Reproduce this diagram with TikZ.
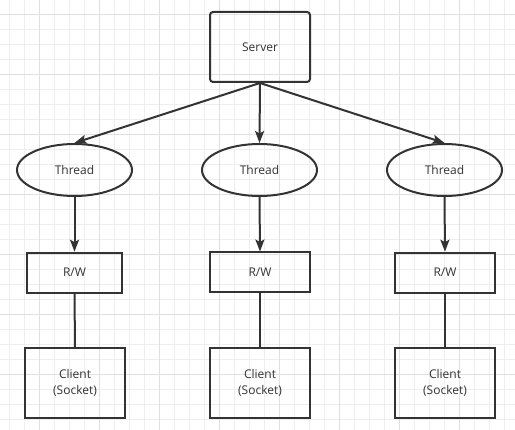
\documentclass[tikz,border=0pt]{standalone}
\usepackage{fontspec}
\setmainfont{Open Sans}
\usetikzlibrary{shapes.geometric,arrows.meta}
\definecolor{ink}{HTML}{333333}
\definecolor{gridminor}{HTML}{EEEEEE}
\definecolor{gridmajor}{HTML}{E0E0E0}
\tikzset{
  base/.style={draw=ink, line width=2pt, text=ink, inner sep=0pt, font=\fontsize{12}{16}\selectfont, align=center},
  srvbox/.style={base, rectangle, rounded corners=3pt, minimum width=100pt, minimum height=70pt},
  thr/.style={base, ellipse, minimum width=115pt, minimum height=52pt},
  rwbox/.style={base, rectangle, minimum width=100pt, minimum height=40pt},
  clbox/.style={base, rectangle, minimum width=100pt, minimum height=70pt},
  arr/.style={draw=ink, line width=2pt, -{Stealth[length=12pt, width=9pt, inset=2.5pt]}},
  lnk/.style={draw=ink, line width=2pt},
}
\begin{document}
\begin{tikzpicture}[x=1pt,y=-1pt]
\useasboundingbox (0,0) rectangle (515,430);
\fill[white] (0,0) rectangle (515,430);
\foreach \i in {0,...,34} {
  \draw[gridminor, line width=1pt] (9.5+15*\i,0) -- (9.5+15*\i,430);
}
\foreach \i in {0,...,28} {
  \draw[gridminor, line width=1pt] (0,14.5+15*\i) -- (515,14.5+15*\i);
}
\foreach \i in {0,...,8} {
  \draw[gridmajor, line width=1pt] (39.5+60*\i,0) -- (39.5+60*\i,430);
}
\foreach \i in {0,...,7} {
  \draw[gridmajor, line width=1pt] (0,14.5+60*\i) -- (515,14.5+60*\i);
}
\node[srvbox] (srv) at (260,47) {Server};
\node[thr] (t1) at (74.5,170) {Thread};
\node[thr] (t2) at (259.5,170) {Thread};
\node[thr] (t3) at (444.5,170) {Thread};
\node[rwbox, minimum width=95.5pt] (r1) at (74.5,272.7) {R/W};
\node[rwbox] (r2) at (260,272.5) {R/W};
\node[rwbox] (r3) at (445,272.7) {R/W};
\node[clbox] (c1) at (75,383) {Client\\(Socket)};
\node[clbox] (c2) at (260,383) {Client\\(Socket)};
\node[clbox] (c3) at (445,383) {Client\\(Socket)};
\draw[arr] (srv.south) -- (t1.north);
\draw[arr] (srv.south) -- (t2.north);
\draw[arr] (srv.south) -- (t3.north);
\draw[arr] (t1.south) -- (r1.north);
\draw[arr] (t2.south) -- (r2.north);
\draw[arr] (t3.south) -- (r3.north);
\draw[lnk] (r1.south) -- (c1.north);
\draw[lnk] (r2.south) -- (c2.north);
\draw[lnk] (r3.south) -- (c3.north);
\end{tikzpicture}
\end{document}
